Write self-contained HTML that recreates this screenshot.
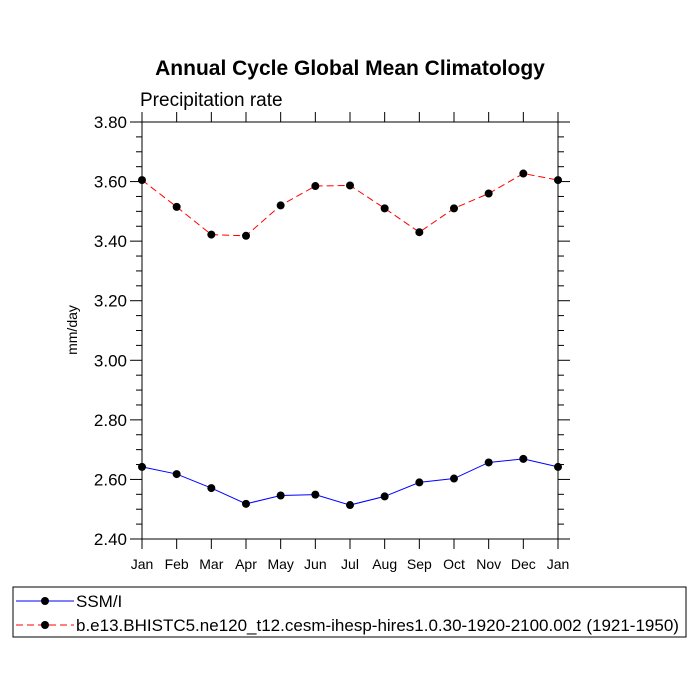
<!DOCTYPE html>
<html><head><meta charset="utf-8"><style>body{margin:0;background:#fff}svg{display:block;font-family:"Liberation Sans",sans-serif}</style></head>
<body>
<svg id="c" width="700" height="700">
<text x="350" y="75" text-anchor="middle" font-size="21" font-weight="bold">Annual Cycle Global Mean Climatology</text>
<text x="140" y="106" font-size="19">Precipitation rate</text>
<text transform="translate(77,330) rotate(-90)" text-anchor="middle" font-size="14">mm/day</text>
<g id="axes"></g><g id="series"></g>
<g>
<rect x="13" y="587" width="673" height="50" fill="none" stroke="#000" stroke-width="1"/>
<g><line x1="16" y1="601" x2="74" y2="601" stroke="blue"/><circle cx="45" cy="601" r="4" fill="#000"/><text x="76" y="607" font-size="17">SSM/I</text></g>
<g><line x1="16" y1="625" x2="74" y2="625" stroke="red" stroke-dasharray="7,4"/><circle cx="45" cy="625" r="4" fill="#000"/><text x="76" y="631" font-size="17">b.e13.BHISTC5.ne120_t12.cesm-ihesp-hires1.0.30-1920-2100.002 (1921-1950)</text></g>
</g>
</svg>
<script>
const months=["Jan","Feb","Mar","Apr","May","Jun","Jul","Aug","Sep","Oct","Nov","Dec","Jan"];
const ssmi=[2.642,2.618,2.571,2.518,2.546,2.549,2.514,2.543,2.590,2.603,2.657,2.669,2.642];
const model=[3.605,3.515,3.422,3.418,3.520,3.585,3.587,3.510,3.430,3.510,3.560,3.627,3.605];
const yTicks=[2.40,2.60,2.80,3.00,3.20,3.40,3.60,3.80];
const ns="http://www.w3.org/2000/svg";
const L=142,R=558,T=122,B=539,ymin=2.4,ymax=3.8;
const X=i=>L+(R-L)*i/(months.length-1);
const Y=v=>B-(B-T)*(v-ymin)/(ymax-ymin);
function mk(tag,at,p){const e=document.createElementNS(ns,tag);for(const k in at)e.setAttribute(k,at[k]);p.appendChild(e);return e;}
const ax=document.getElementById('axes');
const fr=mk('rect',{x:L,y:T,width:R-L,height:B-T,fill:'none',stroke:'#000','stroke-width':1},ax);


for(let v=ymin;v<=ymax+1e-6;v+=0.05){const maj=Math.abs((v-ymin)/0.2-Math.round((v-ymin)/0.2))<1e-6;const len=maj?12:6;
mk('line',{x1:L-len,x2:L,y1:Y(v),y2:Y(v),stroke:'#000'},ax);mk('line',{x1:R,x2:R+len,y1:Y(v),y2:Y(v),stroke:'#000'},ax);}
yTicks.forEach(v=>{const t=mk('text',{x:L-15,y:Y(v)+6,'text-anchor':'end','font-size':17},ax);t.textContent=v.toFixed(2);

});
months.forEach((m,i)=>{mk('line',{x1:X(i),x2:X(i),y1:B,y2:B+10,stroke:'#000'},ax);mk('line',{x1:X(i),x2:X(i),y1:T-10,y2:T,stroke:'#000'},ax);
const t=mk('text',{x:X(i),y:B+30,'text-anchor':'middle','font-size':14},ax);t.textContent=m;

});
const sg=document.getElementById('series');
function series(vals,color,dash,name){const g=mk('g',{},sg);


mk('polyline',{points:vals.map((v,i)=>X(i)+','+Y(v)).join(' '),fill:'none',stroke:color,'stroke-width':1,'stroke-dasharray':dash},g);
vals.forEach((v,i)=>{const c=mk('circle',{cx:X(i),cy:Y(v),r:4,fill:'#000'},g);

});}
series(ssmi,'blue','none','ssmi-series');
series(model,'red','7,4','model-series');
</script>
</body></html>
